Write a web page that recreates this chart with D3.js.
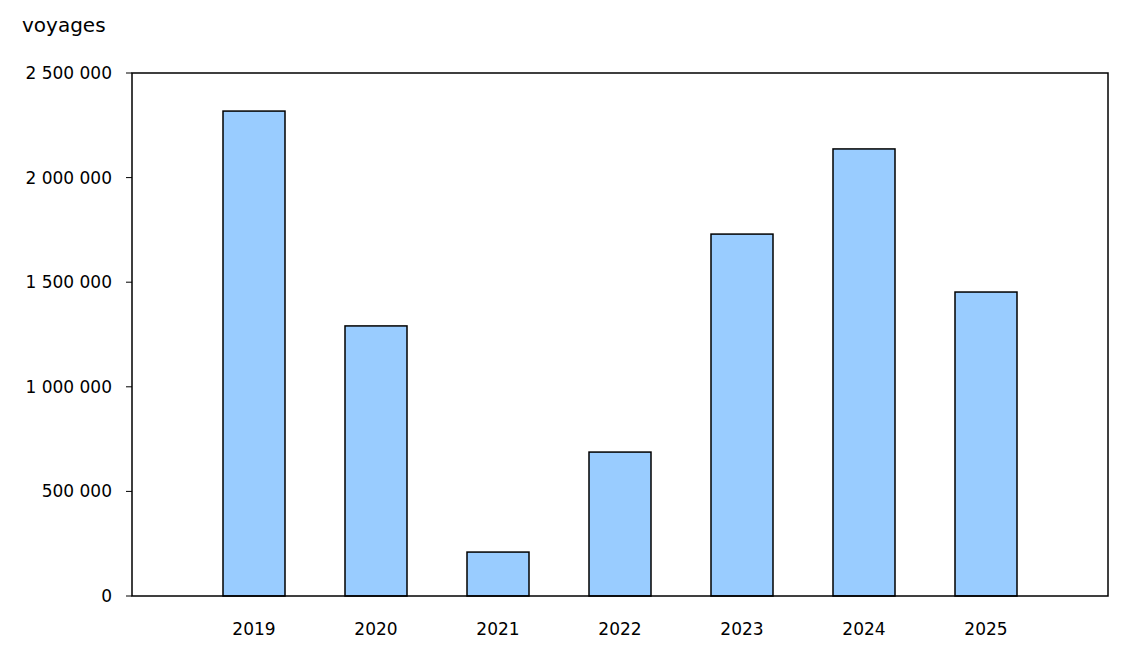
<!DOCTYPE html>
<meta charset="utf-8">
<title>voyages</title>
<style>
body { margin: 0; background: #fff; }
text { font-family: "DejaVu Sans", Verdana, sans-serif; font-size: 17px; fill: #000; }
</style>
<body>
<script src="https://cdn.jsdelivr.net/npm/d3@7"></script>
<script>

var years = ["2019", "2020", "2021", "2022", "2023", "2024", "2025"],
    trips = [2318000, 1291000, 210000, 688000, 1730000, 2137000, 1453000],
    yTicks = [0, 500000, 1000000, 1500000, 2000000, 2500000]

var width = 1147, height = 652,
    plotLeft = 132, plotRight = 1108, plotTop = 73, plotBottom = 596

var svg = d3.select("body").append("svg")
    .attr("width", width)
    .attr("height", height);

// slots 0..8, bars sit on 1..7
var x = d3.scaleLinear().domain([0, years.length + 1]).range([plotLeft, plotRight]);
var y = d3.scaleLinear().domain([0, 2500000]).range([plotBottom, plotTop]);

var fmt = function(d) { return d3.format(",")(d).replace(/,/g, " "); };

svg.selectAll(".ytick")
  .data(yTicks)
  .enter().append("text")
  .attr("x", plotLeft - 20)
  .attr("y", function(d) { return y(d); })
  .attr("dy", "0.35em")
  .attr("text-anchor", "end")
  .text(fmt);

svg.selectAll(".ytickline")
  .data(yTicks)
  .enter().append("line")
  .attr("x1", plotLeft - 6).attr("x2", plotLeft)
  .attr("y1", function(d) { return y(d); })
  .attr("y2", function(d) { return y(d); })
  .attr("stroke", "#000");

svg.append("text")
  .attr("x", 22).attr("y", 32)
  .style("font-size", "20px")
  .text("voyages");

svg.selectAll(".bar")
  .data(trips)
  .enter().append("rect")
  .attr("x", function(d, i) { return x(i + 1) - 31; })
  .attr("width", 62)
  .attr("y", function(d) { return y(d); })
  .attr("height", function(d) { return y(0) - y(d); })
  .attr("fill", "#99ccff")
  .attr("stroke", "#000")
  .attr("stroke-width", 1.5);

svg.selectAll(".xlab")
  .data(years)
  .enter().append("text")
  .attr("x", function(d, i) { return x(i + 1); })
  .attr("y", plotBottom + 39)
  .attr("text-anchor", "middle")
  .text(function(d) { return d; });

svg.append("rect")
  .attr("x", plotLeft).attr("y", plotTop)
  .attr("width", plotRight - plotLeft).attr("height", plotBottom - plotTop)
  .attr("fill", "none")
  .attr("stroke", "#000")
  .attr("stroke-width", 1.5);

</script>
